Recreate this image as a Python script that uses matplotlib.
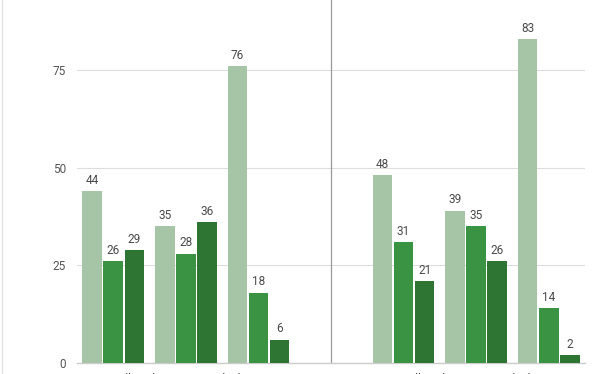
import numpy as np
import matplotlib.pyplot as plt

plt.rcParams['font.family'] = ['Roboto', 'DejaVu Sans']

groups = ['Overall', 'White Americans', 'Black Americans']
left_a = [44, 35, 76]
left_b = [26, 28, 18]
left_c = [29, 36, 6]
right_a = [48, 39, 83]
right_b = [31, 35, 14]
right_c = [21, 26, 2]

colors = ['#a6c4a6', '#3a9342', '#2e7432']
width = 0.27
offset = 0.29

fig = plt.figure(figsize=(6.12, 3.74), dpi=100)
ax = fig.add_axes([77/612, 11/374, 508/612, 363/374])

x_left = np.arange(3)
x_right = np.arange(3) + 4
x_all = np.concatenate([x_left, x_right])

series = [(left_a, right_a), (left_b, right_b), (left_c, right_c)]
for i, (lv, rv) in enumerate(series):
    vals = list(lv) + list(rv)
    pos = x_all + (i - 1) * offset
    bars = ax.bar(pos, vals, width, color=colors[i], linewidth=0, zorder=3)
    for b, v in zip(bars, vals):
        ax.annotate(str(v), (b.get_x() + b.get_width() / 2, v),
                    xytext=(0, 3), textcoords='offset points',
                    ha='center', va='bottom', fontsize=8.5, color='#4a4a4a')

ax.set_xlim(-0.5, 6.5)
ax.set_ylim(0, 92.9)
ax.set_yticks([0, 25, 50, 75])
ax.set_xticks(x_all)
ax.set_xticklabels(groups + groups)
ax.tick_params(axis='x', length=0, pad=7, labelsize=8.5, labelcolor='#444444')
ax.tick_params(axis='y', length=0, pad=8, labelsize=8.5, labelcolor='#555555')
ax.grid(axis='y', color='#dddddd', linewidth=0.8, zorder=0)
for s in ['top', 'right', 'left']:
    ax.spines[s].set_visible(False)
ax.spines['bottom'].set_color('#cccccc')
ax.spines['bottom'].set_linewidth(1)
ax.axvline(3, color='#999999', linewidth=0.9, zorder=2)

fig.add_artist(plt.Line2D([1.5/612, 1.5/612], [0, 1], color='#e2e2e2', linewidth=1))

fig.savefig('out.png', dpi=100)
